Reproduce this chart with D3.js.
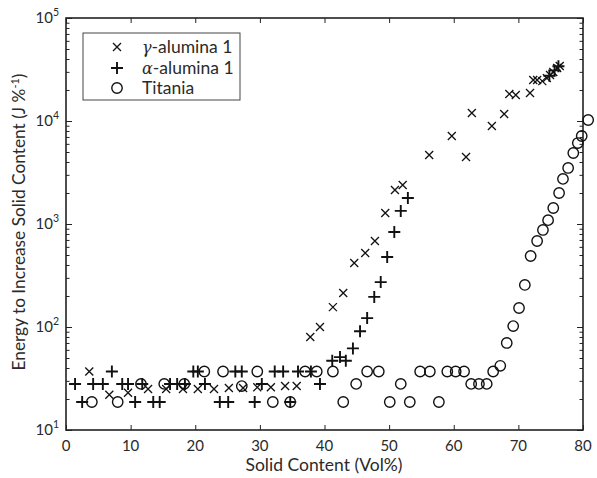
<!DOCTYPE html>
<html>
<head>
<meta charset="UTF-8" />
<title>Energy to Increase Solid Content</title>
<script src="https://cdn.jsdelivr.net/npm/d3@7"></script>
<style>
	body { margin:0; background:#fff; }
	svg text { font-family: Lato, "Open Sans", sans-serif; fill:#2a2a2a; }
</style>
</head>
<body>
<div id="chart"></div>
<script>
// solid content (vol%), energy (J %^-1)
var gammaX = [3.6,6.7,9.6,12.7,15.5,18.1,20.4,22.9,25.2,27.4,29.6,31.7,33.9,35.7,37.8,39.3,41.3,42.9,44.6,46.3,47.8,49.4,50.9,52.1,56.2,59.7,61.9,62.8,65.9,67.8,68.6,69.6,71.8,72.3,72.9,73.7,74.4,74.9,75.4,76.0,76.4];
var gammaY = [37,22,23,25,25,25,25,25,25.6,25.6,26,26,26.7,26.7,80,100,156,214,418,523,684,1280,2140,2390,4680,7150,4470,11970,8940,11700,18300,17900,18700,25000,25000,24400,26100,28000,29900,32700,34200];

var alphaX = [1.4,2.5,4.2,5.7,7.1,8.7,9.6,10.7,11.8,13.5,14.5,16.1,17.2,18.4,19.7,20.4,21.5,23.8,25.1,26.2,27.2,29.2,30.3,32.3,33.6,34.7,35.9,37.9,39.3,41.2,42.4,43.3,44.4,45.5,46.6,47.7,48.7,49.7,50.8,51.8,52.9,74.8,75.6,76.2];
var alphaY = [28,18.7,28,28,37,28,28,18.7,28,18.7,18.7,28,28,28,37,37,28,18.7,18.7,37,37,18.7,28,37,37,18.7,37,37,28,47,51,47,62,91,122,196,273,478,836,1340,1790,27500,31000,34000];

var titaniaX = [4.0,8.0,11.6,15.2,18.3,21.4,24.3,27.2,29.6,32.0,34.7,37.0,38.8,41.3,42.9,44.9,46.6,48.4,50.1,51.8,53.2,54.8,56.3,57.7,59.0,60.3,61.6,62.7,63.9,65.1,66.1,67.2,68.2,69.2,70.1,71.0,71.9,72.9,73.8,74.6,75.4,76.3,76.9,77.7,78.5,79.2,79.8,80.8];
var titaniaY = [18.7,18.7,28,28,28,37,37,26.7,37,18.7,18.7,37,37,37,18.7,28,37,37,18.7,28,18.7,37,37,18.7,37,37,37,28,28,28,37,42,70,102,153,256,489,684,875,1090,1430,2000,2740,3500,4890,6110,7150,10230];

var xTicks = [0,10,20,30,40,50,60,70,80];
var yDecades = [1,2,3,4,5];
var seriesNames = ["\u03b3-alumina 1", "\u03b1-alumina 1", "Titania"];

var W = 597, H = 478;
var svg = d3.select("#chart").append("svg").attr("width", W).attr("height", H);

var x = d3.scaleLinear().domain([0,80]).range([66,583]);
var y = d3.scaleLog().domain([10,1e5]).range([430,18]);

// minor log ticks
var minor = [];
yDecades.slice(0,4).forEach(function(e){
	for (var k=2;k<=9;k++) minor.push(k*Math.pow(10,e));
});
var major = yDecades.map(function(e){ return Math.pow(10,e); });

var g = svg.append("g");

// x axes (ticks inward)
g.append("g").attr("transform","translate(0,430)")
	.call(d3.axisBottom(x).tickValues(xTicks).tickSize(-5).tickFormat(""));
g.append("g").attr("transform","translate(0,18)")
	.call(d3.axisTop(x).tickValues(xTicks).tickSize(-5).tickFormat(""));
// y axes
g.append("g").attr("transform","translate(66,0)")
	.call(d3.axisLeft(y).tickValues(major).tickSize(-6).tickFormat(""));
g.append("g").attr("transform","translate(66,0)")
	.call(d3.axisLeft(y).tickValues(minor).tickSize(-3.5).tickFormat(""));
g.append("g").attr("transform","translate(583,0)")
	.call(d3.axisRight(y).tickValues(major).tickSize(-6).tickFormat(""));
g.append("g").attr("transform","translate(583,0)")
	.call(d3.axisRight(y).tickValues(minor).tickSize(-3.5).tickFormat(""));
g.selectAll(".domain").remove();
g.selectAll(".tick line").attr("stroke","#222").attr("stroke-width",1);

// frame
svg.append("rect").attr("x",66).attr("y",18).attr("width",517).attr("height",412)
	.attr("fill","none").attr("stroke","#222").attr("stroke-width",1.6);

// tick labels
svg.selectAll(".xl").data(xTicks).enter().append("text")
	.attr("x", function(d){ return x(d); }).attr("y", 451)
	.attr("text-anchor","middle").attr("font-size",15).text(function(d){ return d; });

var yl = svg.selectAll(".yl").data(yDecades).enter().append("text")
	.attr("x", 59).attr("y", function(d){ return y(Math.pow(10,d)) + 5; })
	.attr("text-anchor","end").attr("font-size",15);
yl.append("tspan").text("10");
yl.append("tspan").attr("dy",-7).attr("font-size",10.5).text(function(d){ return d; });

// axis titles
svg.append("text").attr("x", 324).attr("y", 471).attr("text-anchor","middle")
	.attr("font-size",17.5).text("Solid Content (Vol%)");
var yt = svg.append("text").attr("transform","translate(25,222) rotate(-90)")
	.attr("text-anchor","middle").attr("font-size",17.3);
yt.append("tspan").text("Energy to Increase Solid Content (J %");
yt.append("tspan").attr("dy",-6).attr("font-size",11).text("-1");
yt.append("tspan").attr("dy",6).text(")");

// markers
function cross(sel, r) {
	return sel.append("path").attr("d","M"+(-r)+","+(-r)+"L"+r+","+r+"M"+(-r)+","+r+"L"+r+","+(-r))
		.attr("stroke","#111").attr("stroke-width",1.3).attr("fill","none");
}
function plus(sel, r) {
	return sel.append("path").attr("d","M"+(-r)+",0L"+r+",0M0,"+(-r)+"L0,"+r)
		.attr("stroke","#111").attr("stroke-width",1.9).attr("fill","none");
}
function ring(sel, r) {
	return sel.append("circle").attr("r", r)
		.attr("stroke","#111").attr("stroke-width",1.4).attr("fill","none");
}

var plot = svg.append("g");
var gpts = plot.selectAll(".g").data(d3.range(gammaX.length)).enter().append("g")
	.attr("transform", function(i){ return "translate("+x(gammaX[i])+","+y(gammaY[i])+")"; });
cross(gpts, 4);
var apts = plot.selectAll(".a").data(d3.range(alphaX.length)).enter().append("g")
	.attr("transform", function(i){ return "translate("+x(alphaX[i])+","+y(alphaY[i])+")"; });
plus(apts, 6);
var tpts = plot.selectAll(".t").data(d3.range(titaniaX.length)).enter().append("g")
	.attr("transform", function(i){ return "translate("+x(titaniaX[i])+","+y(titaniaY[i])+")"; });
ring(tpts, 5.2);

// legend
var lg = svg.append("g");
lg.append("rect").attr("x",83).attr("y",33).attr("width",157).attr("height",67)
	.attr("fill","#fff").attr("stroke","#444").attr("stroke-width",1);
var rows = [47, 68, 88];
var makers = [function(s){cross(s,4);}, function(s){plus(s,6);}, function(s){ring(s,5.2);}];
rows.forEach(function(ry, i){
	var m = lg.append("g").attr("transform","translate(117,"+ry+")");
	makers[i](m);
	var t = lg.append("text").attr("x",142).attr("y",ry+6).attr("font-size",17.5);
	if (i < 2) {
		t.append("tspan").attr("font-family","'DejaVu Serif', serif").attr("font-style","italic")
			.attr("font-size",16).text(seriesNames[i].charAt(0));
		t.append("tspan").text(seriesNames[i].slice(1));
	} else {
		t.text(seriesNames[i]);
	}
});
</script>
</body>
</html>
